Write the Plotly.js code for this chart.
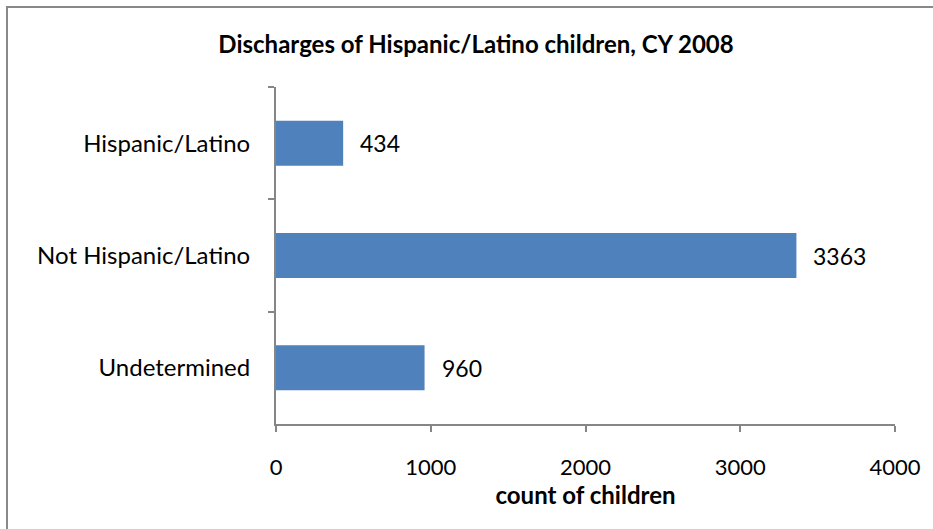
<!DOCTYPE html>
<html>
<head>
<meta charset="utf-8">
<script src="https://cdn.plot.ly/plotly-3.0.1.min.js"></script>
<style>
html,body{margin:0;padding:0;background:#fff;}
#chart{width:933px;height:529px;}
</style>
</head>
<body>
<div id="chart"></div>
<script>
const categories = ["Hispanic/Latino", "Not Hispanic/Latino", "Undetermined"];
const values = [434, 3363, 960];
const xTicks = [0, 1000, 2000, 3000, 4000];

const FONT = "Lato, 'Open Sans', sans-serif";
const AXIS_COLOR = "#868686";

const trace = {
  type: "bar",
  orientation: "h",
  x: values,
  y: categories,
  width: 0.4,
  marker: {color: "#4F81BD", line: {width: 0}},
  hoverinfo: "none"
};

const annotations = categories.map((c, i) => ({
  x: values[i], y: c, xref: "x", yref: "y",
  text: String(values[i]), showarrow: false,
  xanchor: "left", yanchor: "middle", xshift: 15,
  font: {family: FONT, size: 23, color: "#000"}
}));

const L = 276, R = 895, T = 87, B = 424;
const W = R - L, H = B - T;
const px2paperX = px => (px - L) / W;
const px2paperY = py => (B - py) / H;

const layout = {
  width: 933, height: 529,
  margin: {l: L, r: 933 - R, t: T, b: 529 - B, pad: 0},
  paper_bgcolor: "#fff", plot_bgcolor: "#fff",
  showlegend: false,
  font: {family: FONT, color: "#000"},
  title: {
    text: "<b>Discharges of Hispanic/Latino children, CY 2008</b>",
    font: {family: FONT, size: 24, color: "#000"},
    x: 476 / 933, xanchor: "center", xref: "container",
    y: 1 - 45 / 529, yanchor: "middle", yref: "container"
  },
  xaxis: {
    range: [0, 4000],
    tickvals: xTicks,
    ticktext: xTicks.map(String),
    showgrid: false, zeroline: false,
    showline: true, linecolor: AXIS_COLOR, linewidth: 2,
    ticks: "outside", ticklen: 6, tickwidth: 2, tickcolor: AXIS_COLOR,
    tickfont: {family: FONT, size: 22, color: "#000"},
    ticklabelstandoff: 17,
    title: {text: "<b>count of children</b>", font: {family: FONT, size: 24, color: "#000"}, standoff: 8},
    fixedrange: true
  },
  yaxis: {
    type: "category",
    categoryorder: "array",
    categoryarray: categories,
    autorange: "reversed",
    showgrid: false, zeroline: false,
    showline: true, linecolor: AXIS_COLOR, linewidth: 2,
    ticks: "outside", ticklen: 6, tickwidth: 2, tickcolor: AXIS_COLOR,
    tickson: "boundaries",
    tickfont: {family: FONT, size: 24, color: "#000"},
    ticklabelstandoff: 19,
    fixedrange: true
  },
  annotations: annotations,
  shapes: [{
    type: "rect", xref: "paper", yref: "paper",
    x0: px2paperX(7), x1: px2paperX(960),
    y0: px2paperY(560), y1: px2paperY(7),
    line: {color: "#898989", width: 2}, fillcolor: "rgba(0,0,0,0)", layer: "below"
  }]
};

Plotly.newPlot("chart", [trace], layout, {displayModeBar: false, staticPlot: true});
</script>
</body>
</html>
